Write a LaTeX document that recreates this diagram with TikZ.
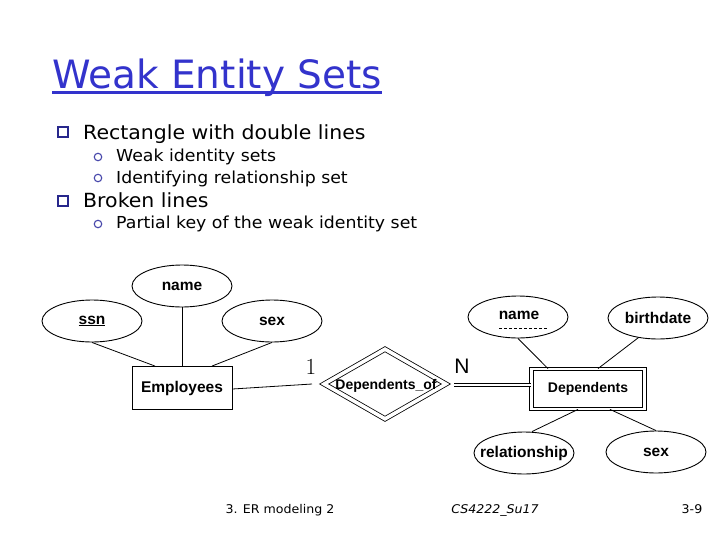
\documentclass[tikz,border=0pt]{standalone}
\usepackage{fontspec}
\newfontfamily\slidefont{DejaVu Sans}[FakeStretch=1.05]
\newfontfamily\titlefont{DejaVu Sans}
\newfontfamily\diagfont{Liberation Sans}
\usetikzlibrary{shapes.geometric}
\definecolor{titleblue}{RGB}{51,51,204}
\definecolor{bulletblue}{RGB}{40,40,140}
\definecolor{circblue}{RGB}{70,70,170}
\begin{document}
\begin{tikzpicture}[x=1pt,y=-1pt,
  attr/.style={ellipse,draw,line width=0.9pt,minimum width=100pt,minimum height=42pt,inner sep=0pt,
     label={[font=\diagfont\bfseries\fontsize{15.5}{18}\selectfont]center:#1}},
  ent/.style={rectangle,draw,line width=0.9pt,minimum width=100pt,minimum height=43pt,inner sep=0pt,
     font=\diagfont\bfseries\fontsize{15.5}{18}\selectfont},
  weakent/.style={rectangle,draw,line width=0.8pt,double,double distance=2.6pt,minimum width=113pt,minimum height=40pt,inner sep=0pt,
     font=\diagfont\bfseries\fontsize{14}{16}\selectfont},
  weakrel/.style={diamond,draw,line width=0.8pt,double,double distance=3.6pt,minimum width=122pt,minimum height=70pt,inner sep=0pt,
     label={[font=\diagfont\bfseries\fontsize{14}{16}\selectfont,xshift=1pt,yshift=-2pt]center:Dependents\_of}},
  conn/.style={line width=0.8pt},
  sqb/.style={rectangle,draw=bulletblue,line width=1.3pt,minimum size=10pt,inner sep=0pt},
  cirb/.style={circle,draw=circblue,line width=1.1pt,minimum size=7.5pt,inner sep=0pt},
  bigtxt/.style={anchor=base west,inner sep=0pt,font=\slidefont\fontsize{19.5}{22}\selectfont},
  subtxt/.style={anchor=base west,inner sep=0pt,font=\slidefont\fontsize{16.5}{20}\selectfont},
  foot/.style={anchor=base,inner sep=0pt,font=\slidefont\fontsize{12}{14}\selectfont},
  card/.style={inner sep=0pt,font=\diagfont\fontsize{21}{24}\selectfont}
]
\useasboundingbox[fill=white] (0,0) rectangle (728,546);

% title
\node[anchor=base west,inner sep=0pt,text=titleblue,font=\titlefont\fontsize{39}{46}\selectfont] (title) at (52,88) {Weak Entity Sets};
\draw[titleblue,line width=2.2pt] ([yshift=-4.5pt]title.base west) -- ([yshift=-4.5pt]title.base east);

% bullets
\node[sqb] (b1) at (63,132) {};
\node[bigtxt] (t1) at (83,139) {Rectangle with double lines};
\node[cirb] (c1) at (98,157) {};
\node[subtxt] (t2) at (116,161) {Weak identity sets};
\node[cirb] (c2) at (98,178) {};
\node[subtxt] (t3) at (116,183) {Identifying relationship set};
\node[sqb] (b2) at (63,201) {};
\node[bigtxt] (t4) at (83,207) {Broken lines};
\node[cirb] (c3) at (98,224) {};
\node[subtxt] (t5) at (116,228) {Partial key of the weak identity set};

% left entity
\node[attr=name] (ename) at (182,286) {};
\node[attr=\underline{ssn}] (ssn) at (92,321) {};
\node[attr=sex] (esex) at (272,321) {};
\node[ent] (emp) at (182,388) {Employees};
\draw[conn] (ssn.south) -- ([xshift=-27pt]emp.north);
\draw[conn] (ename.south) -- (emp.north);
\draw[conn] (esex.south) -- ([xshift=30pt]emp.north);

% relationship
\node[weakrel] (depof) at (385,384) {};
\coordinate (lend) at (312,384);
\draw[conn] ([yshift=-1pt]emp.east) -- (lend);
\node[card] (one) at (311,367) {\rmfamily\fontsize{23}{26}\selectfont 1};
\node[card] (enn) at (462,366) {N};

% weak entity
\node[weakent] (deps) at (588,389) {Dependents};
\coordinate (rstart) at (454,385);
\draw[conn,double,double distance=2.4pt] (rstart) -- (rstart -| deps.west);

\node[attr={}] (dname) at (518,317) {};
\node[inner sep=0pt,font=\diagfont\bfseries\fontsize{15.5}{18}\selectfont] (dnametxt) at (519,315) {name};
\draw[line width=0.7pt,dash pattern=on 3pt off 2pt] ([xshift=-19pt,yshift=-11pt]dname.center) -- ([xshift=29pt,yshift=-11pt]dname.center);
\node[attr=birthdate] (birth) at (658,318) {};
\node[attr=relationship] (rel) at (524,453) {};
\node[attr=sex] (dsex) at (656,452) {};
\draw[conn] (dname.south) -- ([xshift=-40pt]deps.north);
\draw[conn] (birth.225) -- ([xshift=10pt]deps.north);
\draw[conn] ([xshift=8pt]rel.north) -- ([xshift=-10pt]deps.south);
\draw[conn] (dsex.north) -- ([xshift=22pt]deps.south);

% footer
\node[foot] (f1) at (280,513) {3. ER modeling 2};
\node[foot] (f2) at (495,513) {\itshape CS4222\_Su17};
\node[foot] (f3) at (692,513) {3-9};
\end{tikzpicture}
\end{document}
